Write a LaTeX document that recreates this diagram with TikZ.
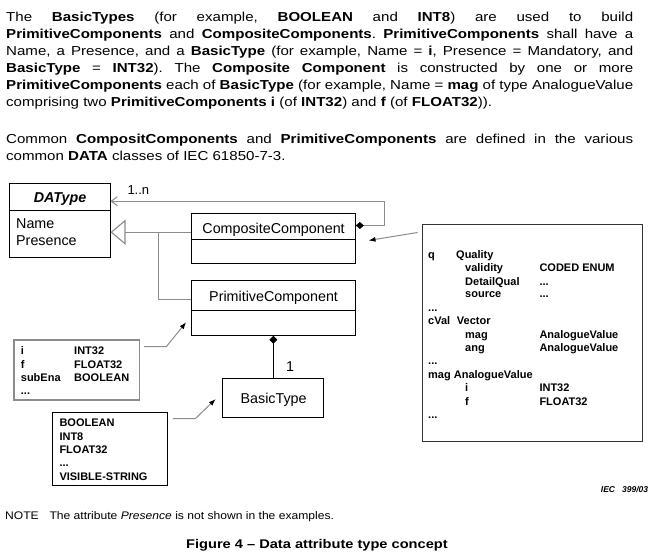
\documentclass[tikz,border=0pt]{standalone}
\usepackage{fontspec}
\setmainfont{Liberation Sans}
\newfontfamily\parafont{Liberation Sans}[FakeStretch=1.16,Ligatures=TeX]
\newfontfamily\notefont{Liberation Sans}[FakeStretch=1.1,Ligatures=TeX]
\usetikzlibrary{arrows.meta,calc}
\definecolor{lgray}{HTML}{8C8C8C}
\frenchspacing
\begin{document}
\begin{tikzpicture}[x=1pt,y=-1pt,
  box/.style={draw=black, line width=1pt, inner sep=0pt, fill=white},
  gbox/.style={draw=lgray, line width=1.2pt, inner sep=0pt, fill=white},
  dtxt/.style={font=\fontsize{14.3}{16}\selectfont, inner sep=0pt, anchor=base},
  dtxtl/.style={dtxt, anchor=base west},
  stxt/.style={font=\fontsize{11}{13}\selectfont\bfseries, inner sep=0pt, anchor=base west},
  ptxt/.style={font=\parafont\fontsize{13}{17}\selectfont\frenchspacing, inner sep=0pt, anchor=base west},
  gline/.style={draw=lgray, line width=1.3pt},
  bline/.style={draw=black, line width=1pt},
  darr/.style={-{Latex[length=7pt,width=5pt,black]}}
]
\useasboundingbox[fill=white] (0,0) rectangle (656,556);

% ---- paragraph text ----
\node[ptxt] (p1) at (6,21.7) {\makebox[627pt][s]{The \textbf{BasicTypes} (for example, \textbf{BOOLEAN} and \textbf{INT8}) are used to build}};
\node[ptxt] (p2) at (6,38.7) {\makebox[627pt][s]{\textbf{PrimitiveComponents} and \textbf{CompositeComponents}. \textbf{PrimitiveComponents} shall have a}};
\node[ptxt] (p3) at (6,55.7) {\makebox[627pt][s]{Name, a Presence, and a \textbf{BasicType} (for example, Name = \textbf{i}, Presence = Mandatory, and}};
\node[ptxt] (p4) at (6,72.7) {\makebox[627pt][s]{\textbf{BasicType} = \textbf{INT32}). The \textbf{Composite Component} is constructed by one or more}};
\node[ptxt] (p5) at (6,89.7) {\makebox[627pt][s]{\textbf{PrimitiveComponents} each of \textbf{BasicType} (for example, Name = \textbf{mag} of type AnalogueValue}};
\node[ptxt] (p6) at (6,106.7) {comprising two \textbf{PrimitiveComponents i} (of \textbf{INT32}) and \textbf{f} (of \textbf{FLOAT32})).};
\node[ptxt] (p7) at (6,143.3) {\makebox[627pt][s]{Common \textbf{CompositComponents} and \textbf{PrimitiveComponents} are defined in the various}};
\node[ptxt] (p8) at (6,161) {common \textbf{DATA} classes of IEC 61850-7-3.};

% ---- class boxes ----
\node[box, minimum width=100.7pt, minimum height=74pt] (da) at (59.65,220.3) {};
\draw[bline] ($(da.north west)+(0,27.4)$) -- ($(da.north east)+(0,27.4)$);
\node[dtxt, font=\fontsize{14.3}{16}\selectfont\bfseries\itshape] (datitle) at (60,202.3) {DAType};
\node[dtxtl] (daname) at (16,228.3) {Name};
\node[dtxtl] (dapres) at (16,245.7) {Presence};

\node[box, minimum width=164pt, minimum height=50pt] (comp) at (273.3,238.3) {};
\draw[bline] ($(comp.north west)+(0,27)$) -- ($(comp.north east)+(0,27)$);
\node[dtxt] (comptitle) at (273.6,234) {CompositeComponent};

\node[box, minimum width=164pt, minimum height=54.6pt] (prim) at (273.3,308) {};
\draw[bline] ($(prim.north west)+(0,30)$) -- ($(prim.north east)+(0,30)$);
\node[dtxt] (primtitle) at (273.6,301.7) {PrimitiveComponent};

\node[box, minimum width=101pt, minimum height=38.6pt] (basic) at (273.3,398) {};
\node[dtxt] (basictitle) at (273.6,403.3) {BasicType};

% ---- note boxes ----
\node[box, draw=black!80, minimum width=219.6pt, minimum height=216pt] (rb) at (532.5,333) {};
\node[stxt] (r1a) at (428,258.3) {q};
\node[stxt] (r1b) at (456,258.3) {Quality};
\node[stxt] (r2a) at (465,271.7) {validity};
\node[stxt] (r2b) at (539.3,271.7) {CODED ENUM};
\node[stxt] (r3a) at (465,285) {DetailQual};
\node[stxt] (r3b) at (539.3,285) {...};
\node[stxt] (r4a) at (465,298) {source};
\node[stxt] (r4b) at (539.3,298) {...};
\node[stxt] (r5a) at (428,311.3) {...};
\node[stxt] (r6a) at (428,324.7) {cVal};
\node[stxt] (r6b) at (456.7,324.7) {Vector};
\node[stxt] (r7a) at (465,338) {mag};
\node[stxt] (r7b) at (539.3,338) {AnalogueValue};
\node[stxt] (r8a) at (465,351.3) {ang};
\node[stxt] (r8b) at (539.3,351.3) {AnalogueValue};
\node[stxt] (r9a) at (428,364.7) {...};
\node[stxt] (r10a) at (428,378.3) {mag AnalogueValue};
\node[stxt] (r11a) at (465,391.3) {i};
\node[stxt] (r11b) at (539.3,391.3) {INT32};
\node[stxt] (r12a) at (465,405) {f};
\node[stxt] (r12b) at (539.3,405) {FLOAT32};
\node[stxt] (r13a) at (428,418.3) {...};

\node[gbox, minimum width=125.3pt, minimum height=60pt] (bi) at (76.65,370) {};
\node[stxt] (b1a) at (20.7,354.3) {i};
\node[stxt] (b1b) at (74,354.3) {INT32};
\node[stxt] (b2a) at (20.7,368) {f};
\node[stxt] (b2b) at (74,368) {FLOAT32};
\node[stxt] (b3a) at (20.7,381.3) {subEna};
\node[stxt] (b3b) at (74,381.3) {BOOLEAN};
\node[stxt] (b4a) at (20.7,394.7) {...};

\node[box, minimum width=115pt, minimum height=72.7pt] (bb) at (109.8,448.65) {};
\node[stxt] (c1) at (59.3,426) {BOOLEAN};
\node[stxt] (c2) at (59.3,440) {INT8};
\node[stxt] (c3) at (59.3,453.3) {FLOAT32};
\node[stxt] (c4) at (59.3,466.7) {...};
\node[stxt] (c5) at (59.3,480) {VISIBLE-STRING};

% ---- connectors ----
\coordinate (cd) at ($(comp.north east)+(0,12.7)$);
\coordinate (dr) at ($(da.north east)+(0,18.4)$);
\draw[gline, {Diamond[length=8pt,width=7pt,black,line width=0.5pt]}-{Straight Barb[length=6pt,width=9pt,line width=1pt]}]
  (cd) -- ++(29,0) |- (dr);
\node[dtxtl, font=\fontsize{13}{15}\selectfont] (mult1) at (127.3,195) {1..n};

\coordinate (cgl) at ($(comp.north west)+(0,19.4)$);
\coordinate (dag) at (da.east |- cgl);
\coordinate (pgl) at ($(prim.north west)+(0,19.3)$);
\coordinate (jn) at ($(dag)+(48.3,0)$);
\draw[gline, -{Triangle[open,length=15pt,width=25pt,fill=white,line width=1.1pt]}] (cgl) -- (dag);
\draw[gline] (pgl) -| (jn);

\draw[bline, {Diamond[length=8pt,width=8pt]}-] (prim.south) -- (basic.north);
\node[dtxtl] (mult2) at (286,371) {1};

\coordinate (rs) at ($(rb.north west)+(-4.7,8)$);
\coordinate (re) at ($(comp.south east)+(12.7,-23.3)$);
\draw[gline, line width=1pt, darr] (rs) -- (re);

\coordinate (bis) at ($(bi.north east)+(4,7.3)$);
\coordinate (bie) at ($(prim.south west)+(-4.6,-13.6)$);
\draw[gline, line width=1pt, darr] (bis) -- ++(22.4,0) -- (bie);

\coordinate (bbs) at ($(bb.north east)+(5,6.7)$);
\coordinate (bbe) at ($(basic.west)+(-6.6,1)$);
\draw[gline, line width=1pt, darr] (bbs) -- ++(22.7,0) -- (bbe);

% ---- footer ----
\node[inner sep=0pt, anchor=base east, font=\fontsize{8.5}{10}\selectfont\bfseries\itshape] (iec) at (648.3,492) {IEC\hspace{7pt}399/03};
\node[inner sep=0pt, anchor=base west, font=\notefont\fontsize{11}{13}\selectfont] (note1) at (5,519.3) {NOTE};
\node[inner sep=0pt, anchor=base west, font=\notefont\fontsize{11}{13}\selectfont] (note2) at (49.3,519.3) {The attribute \textit{Presence} is not shown in the examples.};
\node[inner sep=0pt, anchor=base west, font=\parafont\fontsize{12.6}{15}\selectfont\bfseries] (cap) at (186,548.3) {Figure 4 \textendash{} Data attribute type concept};
\end{tikzpicture}
\end{document}
